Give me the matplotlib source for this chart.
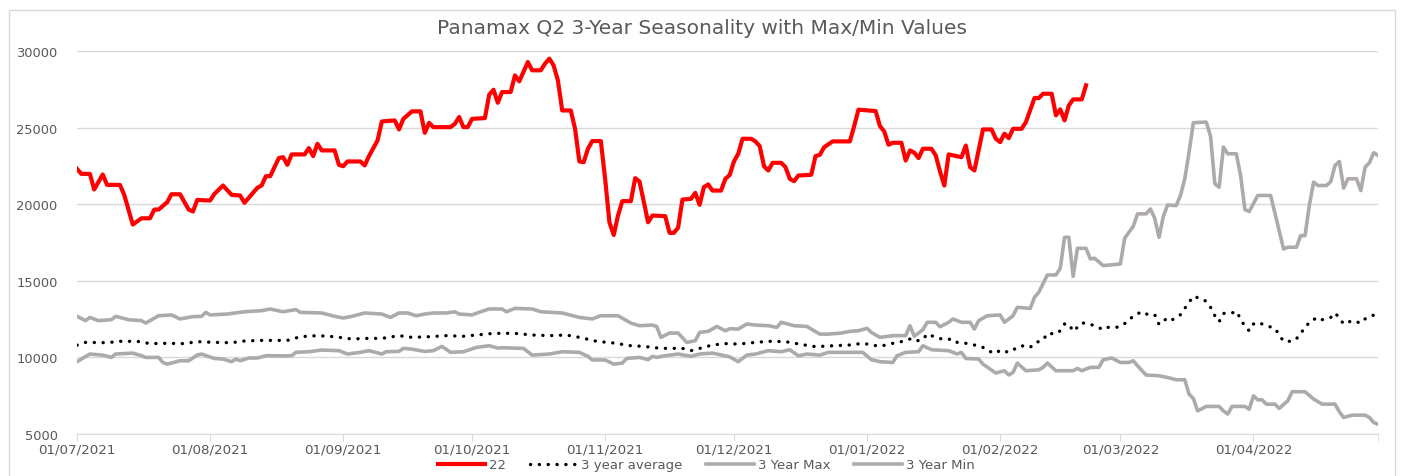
import matplotlib
matplotlib.use("Agg")
import matplotlib.pyplot as plt
import matplotlib.dates as mdates
from matplotlib.patches import Rectangle
import pandas as pd

# dias contados desde 01/07/2021
inicio = pd.Timestamp("2021-07-01")

dias_22 = [0, 1, 3, 4, 6, 7, 10, 11, 13, 15, 17, 18, 19, 21, 22, 24, 26, 27, 28, 31,
           32, 34, 36, 38, 39, 42, 43, 44, 45, 47, 48, 49, 50, 53, 54, 55, 56, 57, 60, 61,
           62, 63, 66, 67, 68, 70, 71, 74, 75, 76, 78, 80, 81, 82, 83, 87, 88, 89, 90, 91,
           92, 95, 96, 97, 98, 99, 101, 102, 103, 105, 106, 108, 109, 110, 111, 112, 113, 115, 116, 117,
           118, 119, 120, 122, 123, 124, 125, 126, 127, 129, 130, 131, 132, 133, 134, 137, 138, 139, 140, 141,
           143, 144, 145, 146, 147, 148, 150, 151, 152, 153, 154, 155, 157, 158, 159, 160, 161, 162, 164, 165,
           166, 167, 168, 171, 172, 173, 174, 176, 180, 181, 182, 186, 187, 188, 189, 190, 192, 193, 194, 195,
           196, 197, 199, 200, 201, 202, 203, 206, 207, 208, 209, 211, 213, 214, 215, 216, 217, 218, 220, 221,
           223, 224, 225, 227, 228, 229, 230, 231, 232, 234, 235]
valores_22 = [22310, 21980, 21980, 20960, 21940, 21260, 21260, 20610, 18670, 19080, 19080, 19650, 19650, 20130, 20650, 20650, 19650, 19520, 20280, 20240,
              20670, 21220, 20610, 20570, 20090, 21070, 21220, 21830, 21830, 23010, 23070, 22570, 23250, 23250, 23660, 23140, 23940, 23510, 23510, 22570,
              22480, 22790, 22790, 22530, 23140, 24160, 25400, 25470, 24880, 25570, 26060, 26060, 24660, 25310, 25030, 25030, 25250, 25690, 25030, 25030,
              25570, 25620, 27150, 27470, 26620, 27320, 27320, 28410, 28020, 29280, 28740, 28740, 29170, 29500, 29060, 28080, 26120, 26120, 24920, 22790,
              22740, 23620, 24120, 24120, 21660, 18820, 17990, 19260, 20200, 20200, 21700, 21480, 20170, 18820, 19260, 19220, 18130, 18130, 18470, 20300,
              20350, 20740, 19960, 21110, 21290, 20890, 20890, 21660, 21900, 22790, 23290, 24270, 24270, 24100, 23790, 22480, 22200, 22700, 22700, 22420,
              21660, 21500, 21870, 21920, 23140, 23220, 23720, 24100, 24100, 25100, 26170, 26080, 25100, 24750, 23880, 24010, 24010, 22850, 23510, 23360,
              23010, 23620, 23620, 23180, 22130, 21220, 23250, 23070, 23830, 22420, 22200, 24880, 24880, 24270, 24050, 24600, 24310, 24920, 24920, 25360,
              26930, 26930, 27210, 27210, 25800, 26190, 25470, 26450, 26840, 26840, 27760]

dias_prom = [0, 2, 7, 10, 14, 17, 21, 25, 28, 32, 36, 39, 43, 47, 49, 52, 56, 60, 64, 67,
             71, 75, 78, 82, 86, 90, 93, 97, 100, 102, 106, 110, 114, 117, 121, 125, 129, 132, 136, 141,
             143, 145, 148, 151, 154, 158, 161, 165, 169, 172, 176, 180, 183, 187, 190, 192, 194, 195, 197, 198,
             200, 202, 204, 205, 207, 209, 211, 212, 214, 215, 217, 219, 220, 222, 223, 225, 226, 228, 229, 230,
             231, 232, 234, 235, 237, 239, 240, 242, 243, 245, 246, 248, 249, 251, 252, 254, 255, 257, 258, 259,
             260, 262, 263, 264, 265, 266, 267, 269, 270, 271, 272, 273, 274, 275, 277, 279, 280, 281, 283, 284,
             285, 286, 287, 289, 290, 292, 293, 294, 295, 297, 299, 300, 301, 303]
valores_prom = [10800, 10980, 10960, 11050, 11050, 10900, 10920, 10900, 11030, 10980, 10960, 11070, 11110, 11110, 11110, 11350, 11420, 11350, 11200, 11240,
                11240, 11420, 11310, 11350, 11420, 11380, 11460, 11570, 11570, 11570, 11460, 11420, 11460, 11310, 11050, 10940, 10760, 10720, 10590, 10590,
                10440, 10590, 10810, 10900, 10870, 10980, 11050, 11030, 10830, 10700, 10760, 10810, 10920, 10720, 10920, 11030, 11200, 11050, 11160, 11530,
                11310, 11160, 11200, 10980, 10920, 10810, 10650, 10440, 10260, 10480, 10330, 10650, 10760, 10650, 10940, 11130, 11570, 11530, 11740, 12180,
                12180, 11700, 12240, 12240, 12070, 11810, 11960, 11960, 12020, 12400, 12720, 12980, 12830, 12790, 12150, 12580, 12440, 12790, 13200, 13590,
                13990, 13810, 13660, 13270, 12720, 12330, 12870, 12900, 13010, 12510, 12020, 11740, 12180, 12290, 12070, 11900, 11460, 11050, 11050, 11200,
                11630, 11850, 12330, 12610, 12460, 12610, 12900, 12570, 12180, 12400, 12240, 12510, 12680, 12830]

dias_max = [0, 2, 3, 5, 8, 9, 12, 15, 16, 19, 22, 24, 27, 29, 30, 31, 35, 39, 43, 45,
            48, 51, 52, 57, 60, 62, 64, 67, 71, 73, 75, 77, 79, 81, 83, 86, 88, 89, 92, 94,
            96, 99, 100, 102, 106, 108, 113, 117, 120, 122, 126, 129, 131, 134, 135, 136, 138, 140, 142, 144,
            145, 147, 149, 151, 152, 154, 156, 158, 161, 163, 164, 167, 170, 171, 173, 175, 178, 180, 182, 184,
            185, 187, 190, 193, 194, 195, 197, 198, 200, 201, 203, 204, 206, 208, 209, 210, 212, 215, 216, 218,
            219, 222, 223, 224, 226, 228, 229, 230, 231, 232, 233, 235, 236, 237, 239, 243, 244, 246, 247, 249,
            250, 251, 252, 253, 254, 256, 257, 258, 259, 260, 263, 264, 265, 266, 267, 268, 270, 271, 272, 273,
            275, 278, 281, 282, 284, 285, 286, 287, 288, 289, 291, 292, 293, 294, 295, 296, 298, 299, 300, 301,
            302, 303]
valores_max = [12680, 12400, 12610, 12400, 12460, 12680, 12460, 12400, 12240, 12720, 12770, 12510, 12660, 12680, 12940, 12770, 12830, 12980, 13050, 13160,
               12980, 13120, 12940, 12900, 12680, 12570, 12680, 12900, 12830, 12610, 12900, 12900, 12720, 12830, 12900, 12900, 12980, 12830, 12770, 12980,
               13160, 13160, 12980, 13200, 13160, 12980, 12900, 12610, 12510, 12720, 12720, 12240, 12070, 12110, 12020, 11310, 11590, 11590, 10980, 11090,
               11630, 11700, 12020, 11740, 11870, 11850, 12180, 12110, 12070, 11960, 12290, 12070, 12020, 11850, 11520, 11520, 11590, 11700, 11740, 11900,
               11630, 11310, 11420, 11420, 12070, 11380, 11810, 12290, 12290, 12000, 12290, 12510, 12290, 12290, 11850, 12400, 12720, 12770, 12290, 12720,
               13270, 13200, 13920, 14250, 15380, 15380, 15820, 17840, 17840, 15290, 17120, 17120, 16430, 16470, 15990, 16100, 17780, 18560, 19370, 19370,
               19690, 19080, 17840, 19200, 19950, 19910, 20570, 21660, 23400, 25320, 25360, 24440, 21330, 21110, 23730, 23290, 23290, 21870, 19650, 19520,
               20570, 20570, 17080, 17190, 17190, 17950, 17950, 19910, 21440, 21220, 21220, 21480, 22530, 22790, 21050, 21660, 21660, 20890, 22420, 22700,
               23360, 23180]

dias_min = [0, 3, 6, 8, 9, 13, 15, 16, 19, 20, 21, 24, 26, 28, 29, 32, 34, 36, 37, 38,
            40, 42, 44, 48, 50, 51, 54, 57, 61, 63, 66, 68, 71, 72, 75, 76, 78, 81, 83, 85,
            87, 90, 93, 96, 98, 99, 104, 106, 110, 113, 117, 119, 120, 123, 125, 127, 128, 131, 133, 134,
            135, 137, 140, 143, 145, 148, 150, 152, 154, 156, 158, 161, 164, 166, 168, 170, 173, 175, 179, 183,
            185, 187, 190, 191, 193, 196, 197, 199, 201, 203, 205, 206, 207, 210, 211, 214, 216, 217, 218, 219,
            221, 224, 225, 226, 228, 232, 233, 234, 236, 238, 239, 241, 243, 245, 246, 247, 249, 252, 254, 256,
            258, 259, 260, 261, 263, 266, 267, 268, 269, 272, 273, 274, 275, 276, 277, 279, 280, 282, 283, 286,
            288, 290, 293, 294, 295, 297, 300, 301, 302, 303]
valores_min = [9720, 10220, 10150, 10000, 10220, 10280, 10110, 10000, 10000, 9670, 9560, 9780, 9780, 10150, 10220, 9930, 9890, 9720, 9890, 9780,
               9960, 9960, 10110, 10100, 10110, 10330, 10370, 10480, 10440, 10220, 10330, 10440, 10220, 10370, 10390, 10590, 10540, 10390, 10440, 10720,
               10330, 10370, 10650, 10760, 10610, 10630, 10590, 10150, 10220, 10370, 10330, 10070, 9830, 9830, 9560, 9630, 9930, 10000, 9850, 10070,
               10000, 10110, 10220, 10070, 10220, 10280, 10160, 10040, 9720, 10150, 10220, 10440, 10370, 10500, 10110, 10220, 10150, 10330, 10330, 10330,
               9850, 9720, 9670, 10110, 10330, 10370, 10760, 10500, 10470, 10440, 10220, 10330, 9930, 9890, 9560, 8980, 9130, 8850, 9020, 9630,
               9130, 9190, 9350, 9630, 9130, 9130, 9280, 9130, 9350, 9350, 9850, 9960, 9670, 9670, 9780, 9450, 8850, 8800, 8690, 8540,
               8540, 7600, 7320, 6510, 6800, 6800, 6510, 6300, 6800, 6800, 6620, 7490, 7230, 7230, 6950, 6950, 6670, 7170, 7760, 7760,
               7280, 6950, 6950, 6450, 6080, 6230, 6230, 6080, 5750, 5640]

meses = pd.date_range("2021-07-01", "2022-04-01", freq="MS")


def fechas(dias):
    return inicio + pd.to_timedelta(dias, unit="D")


gris = "#aeaaaa"
texto = "#595959"
rejilla = "#d9d9d9"

plt.rcParams["font.family"] = ["DejaVu Sans"]

fig = plt.figure(figsize=(14.04, 4.77), dpi=100)
ax = fig.add_axes([77 / 1404, 1 - 435 / 477, (1378 - 77) / 1404, (435 - 52) / 477])

ax.plot(fechas(dias_22), valores_22, color="#ff0000", lw=3.0, label="22", zorder=5)
ax.plot(fechas(dias_prom), valores_prom, color="black", lw=2.4, linestyle=(0, (0.05, 2.6)),
        dash_capstyle="round", label="3 year average", zorder=4)
ax.plot(fechas(dias_max), valores_max, color=gris, lw=2.6, label="3 Year Max", zorder=3)
ax.plot(fechas(dias_min), valores_min, color=gris, lw=2.6, label="3 Year Min", zorder=3)

ax.set_ylim(5000, 30000)
ax.set_yticks(range(5000, 30001, 5000))
ax.set_xlim(inicio, pd.Timestamp("2022-04-30"))
ax.set_xticks(meses)
ax.xaxis.set_major_formatter(mdates.DateFormatter("%d/%m/%Y"))
ax.set_xticks([pd.Timestamp("2022-04-30")], minor=True)

ax.grid(axis="y", color=rejilla, lw=1)
ax.set_axisbelow(True)
for lado in ["top", "right", "left"]:
    ax.spines[lado].set_visible(False)
ax.spines["bottom"].set_color(rejilla)
ax.tick_params(axis="y", length=0, labelsize=9.4, labelcolor=texto, pad=14)
ax.tick_params(axis="x", which="both", length=5, color=rejilla, labelsize=9.7, labelcolor=texto, pad=1)

fig.text(0.5, 1 - 29 / 477, "Panamax Q2 3-Year Seasonality with Max/Min Values",
         ha="center", va="center", fontsize=14.5, color=texto)

fig.legend(loc="center", bbox_to_anchor=(706 / 1404, 1 - 466 / 477), ncol=4, frameon=False,
           fontsize=9.5, labelcolor=texto, handlelength=3.6, handletextpad=0.3, columnspacing=1.8)

fig.add_artist(Rectangle((9 / 1404, -0.01), (1395 - 9) / 1404, (477 - 11) / 477 + 0.01,
                         transform=fig.transFigure, fill=False, edgecolor=rejilla, lw=1))

fig.savefig("out.png", dpi=100)
